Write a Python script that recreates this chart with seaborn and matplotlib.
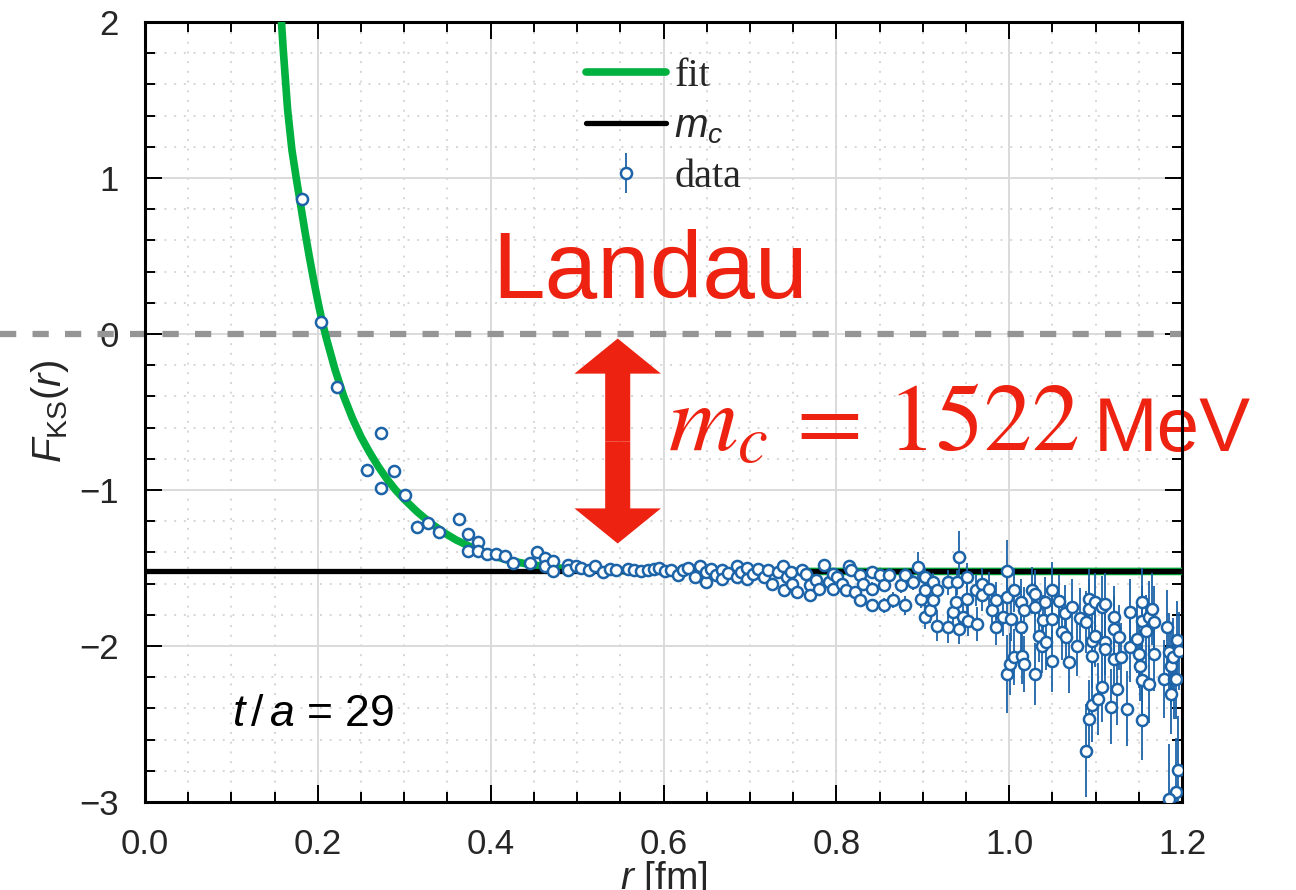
import matplotlib
matplotlib.use("Agg")
import matplotlib.pyplot as plt
import matplotlib.patches as mpatches
from matplotlib.ticker import MultipleLocator, FormatStrFormatter
from matplotlib.font_manager import FontProperties
import seaborn as sns

# ---------------- data ----------------
mc_value = -1.522          # m_c line (GeV)
zero_level = 0.0

fit_r = [0.157, 0.160, 0.165, 0.170, 0.175, 0.180, 0.185, 0.190, 0.195, 0.200,
         0.205, 0.210, 0.220, 0.230, 0.240, 0.250, 0.260, 0.270, 0.280, 0.290,
         0.300, 0.315, 0.330, 0.345, 0.360, 0.375, 0.390, 0.405, 0.420, 0.440,
         0.460, 0.480, 0.500, 0.530, 0.560, 0.600, 0.700, 1.200]
fit_F = [2.08, 1.82, 1.44, 1.18, 1.00, 0.83, 0.66, 0.50, 0.35, 0.21,
         0.08, -0.03, -0.23, -0.40, -0.54, -0.66, -0.76, -0.85, -0.93, -1.00,
         -1.06, -1.14, -1.21, -1.27, -1.32, -1.36, -1.395, -1.425, -1.45, -1.472,
         -1.489, -1.50, -1.508, -1.514, -1.518, -1.520, -1.522, -1.522]

r1 = [0.182, 0.204, 0.222, 0.257, 0.273, 0.273, 0.288, 0.301, 0.315, 0.328,
      0.340, 0.363, 0.374, 0.374, 0.385, 0.385, 0.396, 0.406, 0.417, 0.426,
      0.445, 0.454, 0.463, 0.463, 0.472, 0.472, 0.490, 0.490, 0.499]
F1 = [0.867, 0.076, -0.337, -0.875, -0.633, -0.984, -0.879, -1.029, -1.240, -1.213,
      -1.270, -1.183, -1.281, -1.388, -1.335, -1.388, -1.413, -1.409, -1.424, -1.471,
      -1.471, -1.399, -1.435, -1.488, -1.458, -1.520, -1.478, -1.510, -1.488]
e1 = [0.004, 0.004, 0.004, 0.005, 0.005, 0.005, 0.005, 0.005, 0.006, 0.006,
      0.006, 0.006, 0.006, 0.006, 0.007, 0.007, 0.007, 0.007, 0.007, 0.008,
      0.008, 0.008, 0.008, 0.008, 0.009, 0.009, 0.009, 0.009, 0.010]

r2 = [0.505, 0.514, 0.521, 0.530, 0.538, 0.545, 0.559, 0.566, 0.574, 0.582,
      0.589, 0.595, 0.602, 0.609, 0.617, 0.622, 0.628, 0.637, 0.642, 0.649,
      0.649, 0.655, 0.661, 0.668, 0.668, 0.675, 0.685, 0.685, 0.690, 0.697,
      0.697, 0.704, 0.709, 0.716, 0.721, 0.726, 0.732, 0.738, 0.739, 0.743,
      0.748, 0.749, 0.754, 0.760, 0.765, 0.770, 0.770, 0.776, 0.780, 0.786,
      0.792, 0.796, 0.796, 0.801, 0.806, 0.811, 0.815, 0.817, 0.822, 0.827,
      0.827, 0.831, 0.841, 0.841, 0.841]
F2 = [-1.497, -1.512, -1.490, -1.527, -1.505, -1.512, -1.505, -1.512, -1.520, -1.516,
      -1.508, -1.500, -1.520, -1.512, -1.542, -1.515, -1.500, -1.559, -1.490, -1.591,
      -1.527, -1.505, -1.548, -1.512, -1.569, -1.530, -1.490, -1.559, -1.528, -1.500,
      -1.569, -1.540, -1.505, -1.559, -1.515, -1.601, -1.527, -1.484, -1.644, -1.560,
      -1.527, -1.601, -1.655, -1.512, -1.540, -1.612, -1.676, -1.576, -1.633, -1.478,
      -1.590, -1.537, -1.633, -1.559, -1.600, -1.644, -1.484, -1.516, -1.655, -1.548,
      -1.708, -1.601, -1.527, -1.633, -1.740]
e2 = [0.010, 0.010, 0.010, 0.010, 0.010, 0.012, 0.012, 0.012, 0.012, 0.012,
      0.013, 0.013, 0.013, 0.014, 0.014, 0.014, 0.015, 0.015, 0.015, 0.016,
      0.016, 0.016, 0.017, 0.017, 0.018, 0.018, 0.019, 0.019, 0.020, 0.020,
      0.021, 0.021, 0.022, 0.022, 0.023, 0.024, 0.024, 0.025, 0.026, 0.026,
      0.027, 0.028, 0.028, 0.029, 0.030, 0.030, 0.031, 0.031, 0.032, 0.033,
      0.034, 0.034, 0.035, 0.035, 0.036, 0.037, 0.037, 0.038, 0.039, 0.040,
      0.040, 0.040, 0.041, 0.042, 0.043]

r3 = [0.850, 0.855, 0.855, 0.861, 0.865, 0.875, 0.880, 0.880, 0.889, 0.894,
      0.898, 0.903, 0.903, 0.903, 0.908, 0.912, 0.912, 0.916, 0.917, 0.929,
      0.929, 0.935, 0.938, 0.940, 0.942, 0.942, 0.946, 0.951, 0.951, 0.952,
      0.962, 0.963, 0.968, 0.969, 0.977, 0.980, 0.985, 0.985, 0.993, 0.998,
      0.998, 0.998, 1.001, 1.002, 1.006, 1.006]
F3 = [-1.548, -1.612, -1.740, -1.542, -1.704, -1.612, -1.548, -1.740, -1.591, -1.495,
      -1.697, -1.559, -1.644, -1.811, -1.772, -1.591, -1.708, -1.869, -1.644, -1.591,
      -1.879, -1.783, -1.719, -1.591, -1.431, -1.890, -1.815, -1.559, -1.697, -1.837,
      -1.644, -1.858, -1.601, -1.676, -1.633, -1.772, -1.708, -1.875, -1.815, -1.520,
      -1.687, -2.178, -2.114, -1.826, -1.640, -2.072]
e3 = [0.04, 0.04, 0.05, 0.04, 0.05, 0.05, 0.05, 0.06, 0.05, 0.10,
      0.06, 0.06, 0.07, 0.08, 0.08, 0.06, 0.08, 0.10, 0.07, 0.08,
      0.10, 0.09, 0.09, 0.08, 0.17, 0.10, 0.09, 0.09, 0.10, 0.10,
      0.10, 0.11, 0.10, 0.10, 0.11, 0.11, 0.12, 0.12, 0.12, 0.20,
      0.13, 0.25, 0.20, 0.14, 0.14, 0.18]

r4 = [1.014, 1.014, 1.015, 1.017, 1.017, 1.027, 1.030, 1.030, 1.030, 1.035,
      1.039, 1.038, 1.042, 1.043, 1.049, 1.049, 1.049, 1.058, 1.061, 1.065,
      1.066, 1.069, 1.073, 1.078, 1.082, 1.089, 1.089, 1.092, 1.092, 1.092,
      1.096, 1.096, 1.096, 1.099, 1.099, 1.103, 1.107, 1.107, 1.111, 1.111,
      1.111, 1.118, 1.121, 1.121, 1.121, 1.125, 1.127, 1.129, 1.136, 1.140,
      1.140, 1.148, 1.150, 1.151, 1.154, 1.154, 1.154, 1.154, 1.158, 1.162,
      1.162, 1.165, 1.168, 1.168, 1.179, 1.183, 1.185, 1.187, 1.187, 1.190,
      1.191, 1.193, 1.194, 1.195, 1.193, 1.185, 1.196]
F4 = [-1.719, -1.879, -2.061, -2.114, -1.772, -1.644, -1.751, -1.665, -2.178, -1.933,
      -1.832, -2.003, -1.719, -1.976, -1.640, -1.826, -2.093, -1.713, -1.911, -1.790,
      -1.944, -2.104, -1.751, -2.003, -1.819, -1.847, -2.670, -2.467, -1.697, -1.761,
      -2.375, -2.061, -1.965, -1.719, -1.933, -2.338, -2.264, -1.751, -1.729, -1.976,
      -2.018, -2.388, -1.815, -1.890, -2.082, -2.274, -1.944, -2.072, -2.403, -1.783,
      -2.008, -1.954, -2.050, -2.125, -1.719, -1.837, -2.221, -2.473, -1.905, -1.815,
      -2.242, -1.761, -2.050, -1.847, -2.210, -1.880, -2.040, -2.125, -2.306, -2.072,
      -2.210, -2.210, -1.960, -2.798, -2.937, -2.980, -2.030]
e4 = [0.15, 0.15, 0.18, 0.18, 0.15, 0.15, 0.16, 0.15, 0.20, 0.17,
      0.16, 0.17, 0.16, 0.18, 0.18, 0.18, 0.20, 0.17, 0.18, 0.18,
      0.18, 0.20, 0.18, 0.19, 0.19, 0.20, 0.30, 0.25, 0.19, 0.19,
      0.24, 0.21, 0.20, 0.19, 0.20, 0.23, 0.22, 0.20, 0.20, 0.21,
      0.21, 0.24, 0.20, 0.21, 0.22, 0.23, 0.21, 0.22, 0.24, 0.21,
      0.22, 0.22, 0.22, 0.23, 0.22, 0.22, 0.24, 0.26, 0.23, 0.23,
      0.25, 0.23, 0.24, 0.23, 0.25, 0.24, 0.25, 0.25, 0.26, 0.25,
      0.26, 0.26, 0.25, 0.35, 0.35, 0.35, 0.25]

data_r = r1 + r2 + r3 + r4
data_F = F1 + F2 + F3 + F4
data_err = e1 + e2 + e3 + e4

x_ticks_fmt = '%.1f'

RED = '#EE2211'
GREEN = '#00B140'
BLUE = '#1C63A8'
GRAY = '#959595'

# ---------------- style ----------------
sns.set_theme(style="ticks")
plt.rcParams['font.family'] = ['Liberation Sans', 'DejaVu Sans']
plt.rcParams['mathtext.fontset'] = 'custom'
plt.rcParams['mathtext.it'] = 'Liberation Sans:italic'
plt.rcParams['mathtext.rm'] = 'Liberation Sans'
plt.rcParams['mathtext.bf'] = 'Liberation Sans:bold'
plt.rcParams['mathtext.sf'] = 'Liberation Sans'
plt.rcParams['axes.unicode_minus'] = True

fig = plt.figure(figsize=(12.96, 8.9), dpi=100)
fig.patch.set_facecolor('white')
ax = fig.add_axes([145 / 1296, 1 - 802 / 890, (1182 - 145) / 1296, (802 - 22) / 890])
ax.set_facecolor('white')

# grid
ax.xaxis.set_major_locator(MultipleLocator(0.2))
ax.xaxis.set_minor_locator(MultipleLocator(0.05))
ax.yaxis.set_major_locator(MultipleLocator(1))
ax.yaxis.set_minor_locator(MultipleLocator(0.2))
ax.xaxis.set_major_formatter(FormatStrFormatter(x_ticks_fmt))
ax.set_axisbelow(True)
ax.grid(which='major', color='#dadada', lw=1.4, ls='-')
ax.grid(which='minor', color='#d6d6d6', lw=1.4, ls=(0, (1.0, 4.0)))

# zero reference line (extends past the left spine)
ax.axhline(zero_level, xmin=-0.14, xmax=1.0, color=GRAY, lw=4.5,
           dashes=(2.6, 2.6), clip_on=False, zorder=2)

# fit curve
sns.lineplot(x=fit_r, y=fit_F, ax=ax, color=GREEN, lw=5.5, sort=False,
             estimator=None, zorder=3)
fit_line = ax.lines[-1]
fit_line.set_label('fit')

# m_c line
mc_line = ax.axhline(mc_value, color='black', lw=3.8, zorder=3.5, label=r'$m_c$')

# data
cont = ax.errorbar(data_r, data_F, yerr=data_err, fmt='o', ms=8, mfc='white',
                   mec=BLUE, mew=1.8, ecolor=BLUE, elinewidth=1.3, capsize=0,
                   zorder=4, label='data')

ax.set_xlim(0, 1.2)
ax.set_ylim(-3, 2)

# ticks / spines
ax.tick_params(which='both', direction='in', top=True, right=True,
               width=1.4, color='black')
ax.tick_params(which='major', length=12, labelsize=25, pad=19)
ax.tick_params(which='minor', length=7)
for sp in ax.spines.values():
    sp.set_linewidth(2.2)
    sp.set_color('black')

ax.set_xlabel(r'$r$ [fm]', fontsize=28, labelpad=-2)
ax.set_ylabel(r'$F_{\mathrm{KS}}(r)$', fontsize=29, labelpad=6)

# legend
leg = ax.legend(handles=[fit_line, mc_line, cont], labels=['fit', r'$m_c$', 'data'],
                prop=FontProperties(family='Liberation Serif', size=29),
                frameon=False, loc='upper center', bbox_to_anchor=(0.5, 1.0),
                handlelength=2.0, handletextpad=0.2, labelspacing=0.33,
                borderaxespad=0.6, borderpad=0.3)

# annotations
ax.text(0.584, 0.228, 'Landau', color=RED, fontsize=68, ha='center',
        va='baseline', family='Liberation Sans', zorder=6)
ax.text(0.605, -0.747, r'$m_c\,=\,1522$', color=RED, fontsize=69,
        math_fontfamily='stix', ha='left', va='baseline', zorder=2)
ax.text(1.098, -0.747, 'MeV', color=RED, fontsize=55, ha='left',
        va='baseline', family='Liberation Sans', zorder=2)
ax.text(0.1007, -2.51, r'$t\,/\,a$ = 29', fontsize=32, ha='left',
        va='baseline', color='black', zorder=6)

arrow_x = 0.547
arrow_mid = -0.69
arrow_top = -0.029
arrow_bottom = -1.343
for tip in (arrow_top, arrow_bottom):
    ax.add_patch(mpatches.FancyArrow(arrow_x, arrow_mid, 0, tip - arrow_mid,
                                     width=0.029, head_width=0.100,
                                     head_length=0.225, length_includes_head=True,
                                     color=RED, lw=0, zorder=5))

fig.savefig('out.png', dpi=100)
